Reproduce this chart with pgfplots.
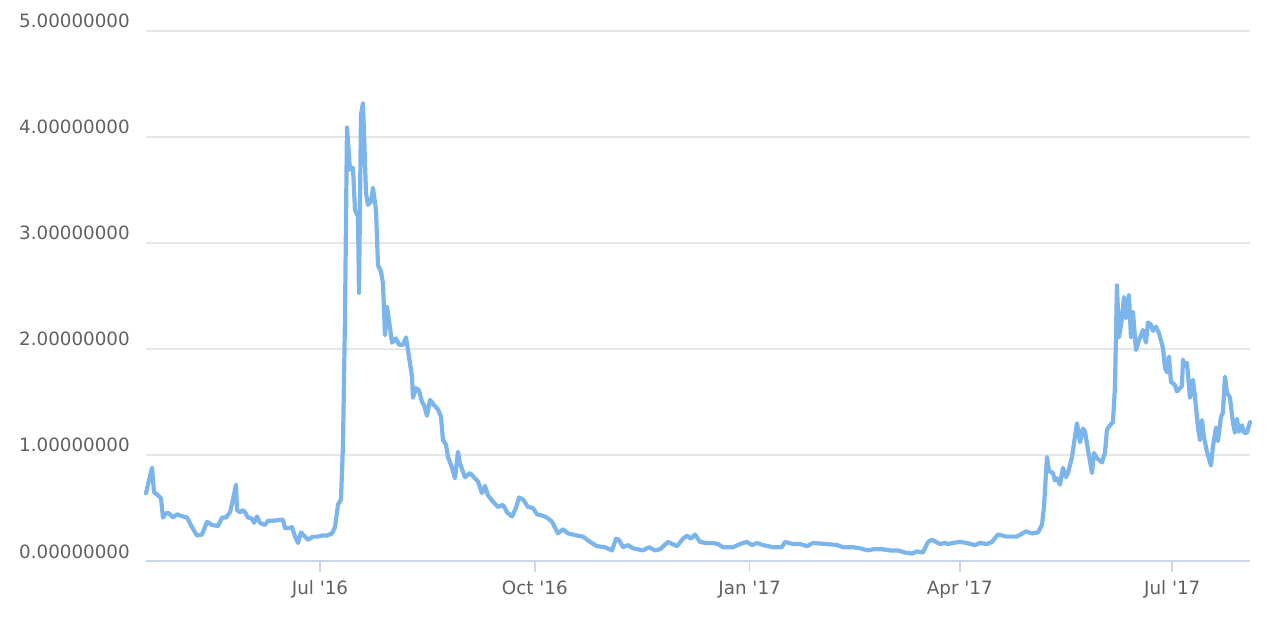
\documentclass[border=0pt]{standalone}
\usepackage{pgfplots}
\pgfplotsset{compat=1.18}
\usepackage{pgfplotstable}
\usepackage{fontspec}
\setmainfont{DejaVu Sans}
\definecolor{series}{HTML}{7CB5EC}
\definecolor{gridc}{HTML}{E6E6E6}
\definecolor{axisc}{HTML}{CCD6EB}
\definecolor{labc}{HTML}{606060}
% px = horizontal position, v = value
\pgfplotstableread{
px v
146 0.64
152 0.88
154 0.65
158 0.62
161 0.59
163 0.41
166 0.45
169 0.45
173 0.41
177 0.44
183 0.42
187 0.41
192 0.32
197 0.24
202 0.25
207 0.37
212 0.34
218 0.33
222 0.41
226 0.41
230 0.46
233 0.58
236 0.72
237 0.48
240 0.46
243 0.48
245 0.46
248 0.41
252 0.40
254 0.36
257 0.42
260 0.36
265 0.34
268 0.38
273 0.38
283 0.39
285 0.31
290 0.31
292 0.32
295 0.23
298 0.17
301 0.27
303 0.25
308 0.20
313 0.23
318 0.23
322 0.24
327 0.24
332 0.26
335 0.32
338 0.53
341 0.58
343 1.10
345 2.30
347 4.09
350 3.69
353 3.71
355 3.31
358 3.25
359 2.53
361 4.21
363 4.32
366 3.47
368 3.36
371 3.39
373 3.52
376 3.31
378 2.79
381 2.73
383 2.62
385 2.13
387 2.40
389 2.27
392 2.06
396 2.10
399 2.04
403 2.04
406 2.11
408 1.99
412 1.74
413 1.54
416 1.63
419 1.61
422 1.50
424 1.47
427 1.37
430 1.52
434 1.47
438 1.43
441 1.36
443 1.14
446 1.10
448 0.98
452 0.88
455 0.78
458 1.03
460 0.92
465 0.79
470 0.83
473 0.80
478 0.75
482 0.64
485 0.71
488 0.62
493 0.56
498 0.51
503 0.53
507 0.46
512 0.42
516 0.50
519 0.60
523 0.58
528 0.51
533 0.50
537 0.44
542 0.43
547 0.41
552 0.37
558 0.26
563 0.30
568 0.26
577 0.24
583 0.23
590 0.18
597 0.14
605 0.13
612 0.10
616 0.21
619 0.20
623 0.13
628 0.15
633 0.12
643 0.10
649 0.13
655 0.10
660 0.11
668 0.18
677 0.14
683 0.21
687 0.24
691 0.21
695 0.25
700 0.18
706 0.17
713 0.17
718 0.16
723 0.13
733 0.13
740 0.16
747 0.18
752 0.15
757 0.17
763 0.15
773 0.13
782 0.13
785 0.18
793 0.16
800 0.16
807 0.14
813 0.17
827 0.16
837 0.15
843 0.13
853 0.13
860 0.12
868 0.10
873 0.11
883 0.11
890 0.10
898 0.10
905 0.08
912 0.07
917 0.09
923 0.08
928 0.18
932 0.20
940 0.16
945 0.17
948 0.16
953 0.17
960 0.18
967 0.17
975 0.15
980 0.17
987 0.16
992 0.18
998 0.25
1007 0.23
1017 0.23
1026 0.28
1032 0.26
1038 0.27
1042 0.34
1044 0.51
1047 0.98
1049 0.85
1053 0.83
1055 0.76
1057 0.78
1060 0.72
1063 0.88
1066 0.79
1068 0.83
1072 0.98
1077 1.30
1080 1.12
1083 1.25
1085 1.22
1088 1.05
1092 0.83
1094 1.02
1097 0.97
1102 0.93
1105 1.02
1107 1.24
1110 1.28
1113 1.31
1115 1.64
1117 2.60
1119 2.11
1122 2.29
1124 2.49
1126 2.29
1129 2.51
1131 2.11
1133 2.35
1136 1.99
1139 2.08
1143 2.18
1146 2.06
1148 2.25
1151 2.23
1153 2.17
1156 2.21
1159 2.15
1163 2.01
1165 1.82
1167 1.78
1169 1.93
1171 1.69
1175 1.66
1177 1.60
1182 1.65
1183 1.90
1185 1.84
1187 1.87
1190 1.54
1193 1.71
1195 1.55
1198 1.26
1200 1.14
1202 1.33
1204 1.17
1207 1.03
1211 0.90
1213 1.08
1216 1.26
1218 1.13
1221 1.36
1223 1.40
1225 1.74
1227 1.59
1230 1.54
1233 1.30
1235 1.21
1237 1.34
1239 1.22
1242 1.28
1244 1.21
1247 1.21
1250 1.31
}\datatable
\begin{document}
\begin{tikzpicture}
\useasboundingbox (-146pt,-63pt) rectangle (1134pt,561pt);
\begin{axis}[
  at={(0pt,0pt)}, anchor=south west,
  scale only axis,
  width=1104pt, height=530pt,
  xmin=-74.52, xmax=398.29,
  ymin=0, ymax=5,
  axis x line*=bottom,
  axis y line*=left,
  x axis line style={draw=axisc, line width=1.5pt, -},
  y axis line style={draw=none},
  ytick={0,1,2,3,4,5},
  yticklabels={0.00000000,1.00000000,2.00000000,3.00000000,4.00000000,5.00000000},
  xtick={0,92,184,274,365},
  xticklabels={Jul \textquotesingle16,Oct \textquotesingle16,Jan \textquotesingle17,Apr \textquotesingle17,Jul \textquotesingle17},
  ymajorgrids,
  grid style={draw=gridc, line width=1.5pt},
  tick align=outside,
  xtick style={draw=axisc, line width=1.5pt},
  ytick style={draw=none},
  major tick length=11pt,
  tick label style={font=\fontsize{18.3}{22}\selectfont, text=labc, inner sep=0pt},
  yticklabel style={anchor=base east, xshift=-5pt, yshift=3pt},
  xticklabel style={anchor=base, yshift=-22pt},
  clip=false,
]
\addplot[color=series, line width=4.2pt, line join=round, line cap=round]
  table[x expr={(\thisrow{px}-320)/2.335}, y=v] {\datatable};
\end{axis}
\end{tikzpicture}
\end{document}
